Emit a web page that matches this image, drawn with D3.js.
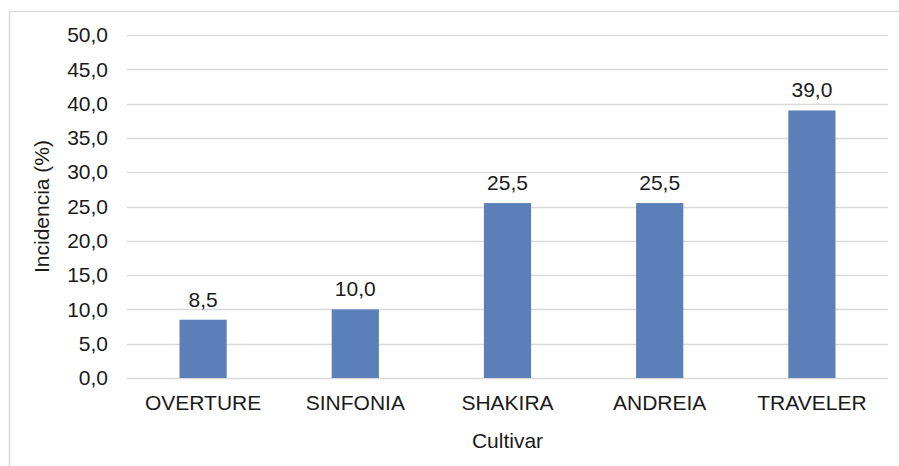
<!DOCTYPE html>
<html lang="es">
<head>
    <meta charset="UTF-8">
    <title>Incidencia por cultivar</title>
    <script src="https://d3js.org/d3.v7.min.js"></script>
    <style>
        body { margin: 0; background: #fff; }
        svg text { font-family: "Liberation Sans", Arial, sans-serif; fill: #1a1a1a; }
        .grid line { stroke: #d9d9d9; stroke-width: 1.3px; }
    </style>
</head>
<body>
    <svg width="899" height="466"></svg>

    <script>
        const cultivars = ["OVERTURE", "SINFONIA", "SHAKIRA", "ANDREIA", "TRAVELER"];
        const incidence = [8.5, 10.0, 25.5, 25.5, 39.0];
        const yTicks = [0, 5, 10, 15, 20, 25, 30, 35, 40, 45, 50];

        const svg = d3.select("svg"),
            width = +svg.attr("width"),
            height = +svg.attr("height");

        const margin = { top: 35, right: 11, bottom: 88, left: 127 };
        const fmt = d => d.toFixed(1).replace(".", ",");

        // chart frame (only top and left visible in the picture)
        svg.append("rect")
            .attr("x", 9.5).attr("y", 11.5)
            .attr("width", width + 20).attr("height", height + 20)
            .attr("fill", "none")
            .attr("stroke", "#d9d9d9")
            .attr("stroke-width", 1.5);

        const x = d3.scaleBand()
            .domain(cultivars)
            .range([margin.left, width - margin.right])
            .paddingInner(0.69)
            .paddingOuter(0.345);

        const y = d3.scaleLinear()
            .domain([0, 50])
            .range([height - margin.bottom, margin.top]);

        // gridlines
        svg.append("g")
            .attr("class", "grid")
            .selectAll("line")
            .data(yTicks)
            .enter().append("line")
            .attr("x1", margin.left)
            .attr("x2", width - margin.right)
            .attr("y1", d => Math.round(y(d)) + 0.5)
            .attr("y2", d => Math.round(y(d)) + 0.5);

        // y axis labels
        const yAxis = svg.append("g")
            .attr("transform", `translate(${margin.left - 19},0)`)
            .call(d3.axisLeft(y).tickValues(yTicks).tickFormat(fmt).tickSize(0).tickPadding(0));
        yAxis.select(".domain").remove();
        yAxis.selectAll("text")
            .attr("font-size", 21)
            .attr("fill", "#1a1a1a")
            .attr("font-family", "Liberation Sans, Arial, sans-serif");

        // x axis labels
        const xAxis = svg.append("g")
            .attr("transform", `translate(0,${height - margin.bottom})`)
            .call(d3.axisBottom(x).tickSize(0).tickPadding(17));
        xAxis.select(".domain").remove();
        xAxis.selectAll("text")
            .attr("font-size", 21)
            .attr("fill", "#1a1a1a")
            .attr("font-family", "Liberation Sans, Arial, sans-serif");

        // bars
        svg.append("g")
            .selectAll("rect")
            .data(incidence)
            .enter().append("rect")
            .attr("x", (d, i) => x(cultivars[i]))
            .attr("y", d => y(d))
            .attr("width", x.bandwidth())
            .attr("height", d => y(0) - y(d))
            .attr("fill", "#5b7fb8");

        // value labels
        svg.append("g")
            .selectAll("text")
            .data(incidence)
            .enter().append("text")
            .attr("x", (d, i) => x(cultivars[i]) + x.bandwidth() / 2)
            .attr("y", d => y(d) - 13)
            .attr("text-anchor", "middle")
            .attr("font-size", 21)
            .text(fmt);

        // axis titles
        svg.append("text")
            .attr("x", (margin.left + width - margin.right) / 2)
            .attr("y", 448)
            .attr("text-anchor", "middle")
            .attr("font-size", 21)
            .text("Cultivar");

        svg.append("text")
            .attr("transform", `translate(49,${(y(0) + y(50)) / 2}) rotate(-90)`)
            .attr("text-anchor", "middle")
            .attr("font-size", 21)
            .text("Incidencia (%)");
    </script>
</body>
</html>
